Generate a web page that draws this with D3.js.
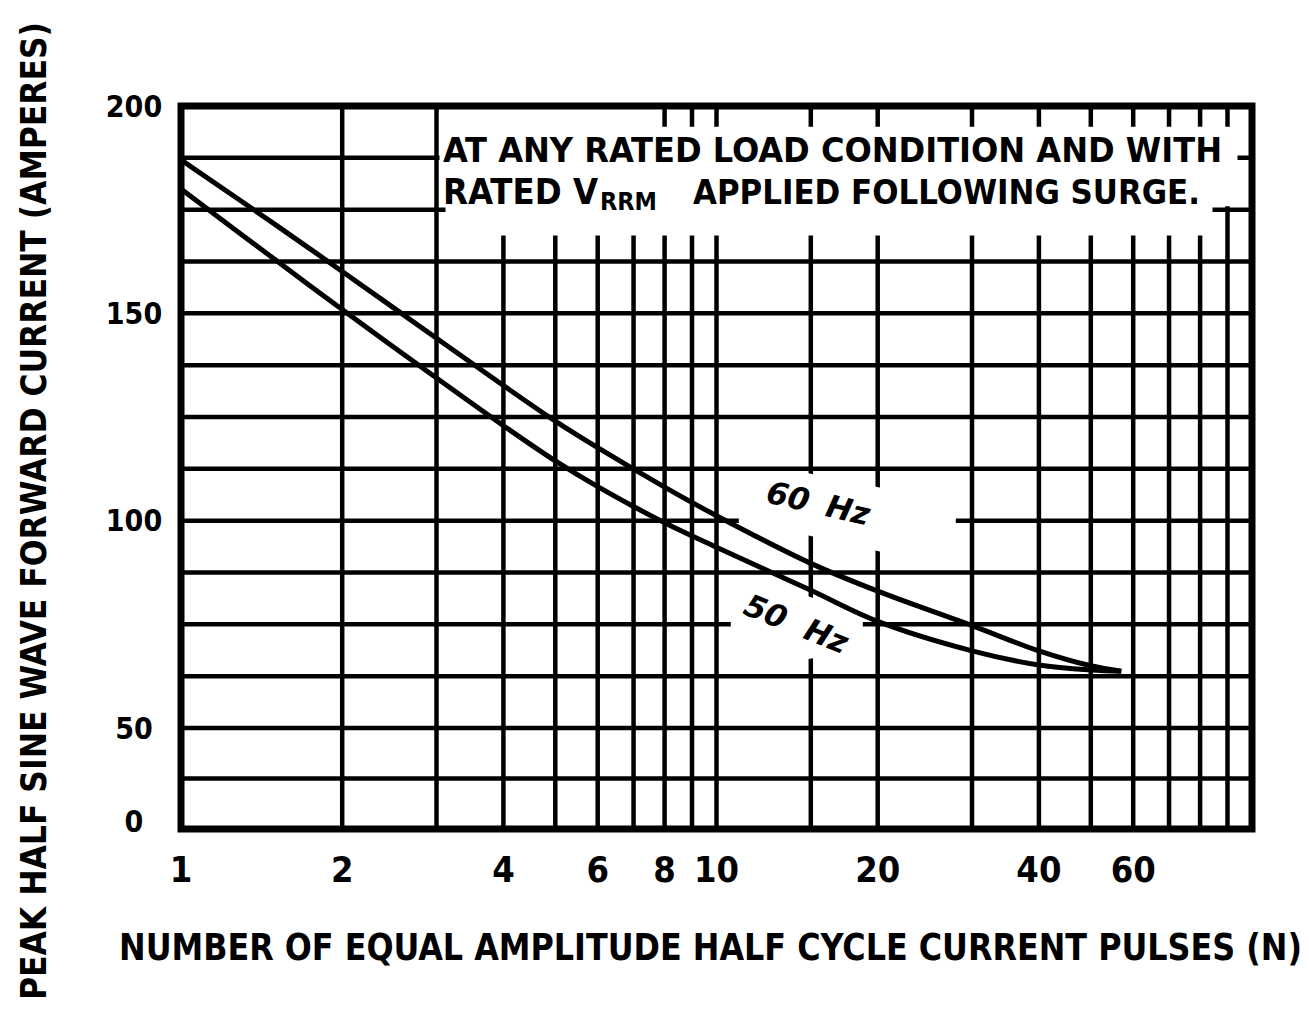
<!DOCTYPE html>
<html><head><meta charset="utf-8">
<script src="https://cdn.jsdelivr.net/npm/d3@7"></script>
<style>
html,body{margin:0;padding:0;background:#fff;}
svg{display:block;}
text{font-family:"DejaVu Sans Condensed","DejaVu Sans",sans-serif;font-weight:bold;fill:#000;font-stretch:condensed;}
</style></head><body>
<svg id="chart" width="1309" height="1010"></svg>
<script>
// ---- data ----
const pulses      = [1, 1.5, 2, 3, 4, 5, 6, 8, 10, 15, 20, 30, 40, 50, 57];
const current60Hz = [187.0, 171.4, 160.1, 144.0, 132.6, 124.0, 117.6, 108.1, 101.2, 89.7, 83.0, 74.7, 68.6, 65.0, 63.7];
const current50Hz = [180.0, 162.9, 150.9, 134.4, 122.9, 114.4, 108.2, 99.5, 93.6, 83.2, 75.7, 68.6, 65.2, 64.0, 63.7];
const xTickValues = [1, 2, 4, 6, 8, 10, 20, 40, 60];
const xGridValues = [2, 3, 4, 5, 6, 7, 8, 9, 10, 15, 20, 30, 40, 50, 60, 70, 80, 90];
const yTickValues = [0, 50, 100, 150, 200];
const yGridValues = [25, 50, 62.5, 75, 87.5, 100, 112.5, 125, 137.5, 150, 162.5, 175, 187.5];
const xTitle = "NUMBER OF EQUAL AMPLITUDE HALF CYCLE CURRENT PULSES (N)";
const yTitle = "PEAK HALF SINE WAVE FORWARD CURRENT (AMPERES)";
const noteLine1 = "AT ANY RATED LOAD CONDITION AND WITH";
const noteLine2a = "RATED V";
const noteLine2sub = "RRM";
const noteLine2b = "APPLIED FOLLOWING SURGE.";
const seriesLabels = [
  {name: "60", unit: "Hz", n: 15.5, v: 104.3, angle: 13, gap: 18},
  {name: "50", unit: "Hz", n: 14.1, v: 75.2, angle: 22, gap: 22}
];

// ---- scales ----
const svg = d3.select("#chart");
const x = d3.scaleLog().domain([1, 100]).range([181, 1252]);
const y = d3.scaleLinear().domain([0, 50, 200]).range([829, 728, 106]);

const grid = svg.append("g").attr("stroke", "#000").attr("stroke-width", 4.5);
grid.selectAll("line.v").data(xGridValues).join("line").attr("class", "v")
  .attr("x1", d => x(d)).attr("x2", d => x(d)).attr("y1", y(200)).attr("y2", y(0));
grid.selectAll("line.h").data(yGridValues).join("line").attr("class", "h")
  .attr("x1", x(1)).attr("x2", x(100)).attr("y1", d => y(d)).attr("y2", d => y(d));

// ---- masks (white areas behind annotations) ----
const xl = x(3) + 3, xl2 = x(3) + 9, xr = x(90) + 10, xn = x(90) - 15;
const yTop = y(200), yStub = y(195), yN = y(175) - 3.5, yB = y(168.75);
const notePoly = [[xl, yTop], [x(7.5), yTop], [x(7.5), yStub], [xr, yStub], [xr, yN], [xn, yN],
                  [xn, yB], [xl2, yB], [xl2, yN], [xl, yN]];
svg.append("polygon").attr("points", notePoly.map(p => p.join(",")).join(" ")).attr("fill", "#fff");

const a60 = [x(15), y(100)];
const m60 = [[-72,-21],[-10,-49],[70,-33],[145,-6],[145,7],[70,31],[-10,13],[-72,7]];
svg.append("polygon").attr("points", m60.map(p => [a60[0]+p[0], a60[1]+p[1]].join(",")).join(" ")).attr("fill", "#fff");
const a50 = [x(15), y(75)];
const m50 = [[-80,-24],[-20,-34],[52,-9],[52,26],[-10,36],[-80,6]];
svg.append("polygon").attr("points", m50.map(p => [a50[0]+p[0], a50[1]+p[1]].join(",")).join(" ")).attr("fill", "#fff");

// ---- frame ----
svg.append("rect").attr("x", x(1)).attr("y", y(200)).attr("width", x(100) - x(1)).attr("height", y(0) - y(200))
  .attr("fill", "none").attr("stroke", "#000").attr("stroke-width", 7);

// ---- curves ----
const line = d3.line().x(d => x(d[0])).y(d => y(d[1])).curve(d3.curveCatmullRom.alpha(0.5));
[current60Hz, current50Hz].forEach(vals => {
  svg.append("path").datum(pulses.map((n, i) => [n, vals[i]]))
    .attr("d", line).attr("fill", "none").attr("stroke", "#000").attr("stroke-width", 5);
});

// ---- tick labels ----
svg.append("g").selectAll("text").data(yTickValues).join("text")
  .attr("x", 134).attr("y", d => y(d)).attr("dy", d => d === 0 ? "0.1em" : "0.36em").attr("text-anchor", "middle")
  .attr("font-size", 30).text(d => d);
svg.append("g").selectAll("text").data(xTickValues).join("text")
  .attr("x", d => x(d)).attr("y", 882).attr("text-anchor", "middle")
  .attr("font-size", 36).text(d => d);

// ---- axis titles ----
svg.append("text").attr("transform", "translate(119,960) scale(1,1.13)").attr("font-size", 33)
  .attr("textLength", 1183).attr("lengthAdjust", "spacingAndGlyphs").text(xTitle);
svg.append("text").attr("transform", "translate(46,1000) rotate(-90) scale(1,1.1)").attr("font-size", 33)
  .attr("textLength", 978).attr("lengthAdjust", "spacingAndGlyphs").text(yTitle);

// ---- note ----
svg.append("text").attr("x", 443).attr("y", 162).attr("font-size", 34)
  .attr("textLength", 779).attr("lengthAdjust", "spacingAndGlyphs").text(noteLine1);
svg.append("text").attr("x", 443).attr("y", 204).attr("font-size", 35)
  .attr("textLength", 155).attr("lengthAdjust", "spacingAndGlyphs").text(noteLine2a);
svg.append("text").attr("x", 600).attr("y", 210).attr("font-size", 24)
  .attr("textLength", 57).attr("lengthAdjust", "spacingAndGlyphs").text(noteLine2sub);
svg.append("text").attr("x", 693).attr("y", 204).attr("font-size", 33)
  .attr("textLength", 507).attr("lengthAdjust", "spacingAndGlyphs").text(noteLine2b);

// ---- series labels ----
seriesLabels.forEach(l => {
  const t = svg.append("text")
    .attr("transform", `translate(${x(l.n)},${y(l.v)}) rotate(${l.angle})`)
    .attr("text-anchor", "middle").attr("dy", "0.36em")
    .attr("font-size", 31).attr("font-style", "italic")
    .style("font-family", '"DejaVu Sans",sans-serif').style("font-stretch", "normal");
  t.append("tspan").text(l.name);
  t.append("tspan").attr("dx", l.gap).text(l.unit);
});
</script>
</body></html>
